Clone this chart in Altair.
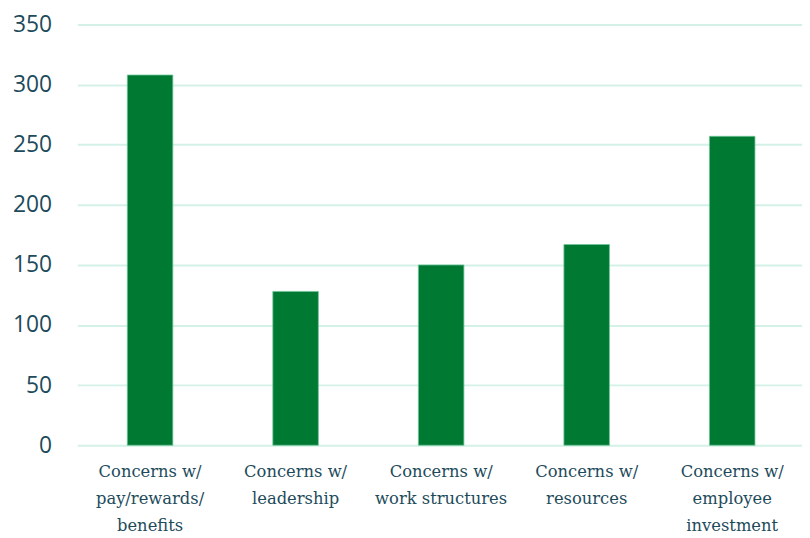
import altair as alt
import pandas as pd

categories = [
    "Concerns w/|pay/rewards/|benefits",
    "Concerns w/|leadership",
    "Concerns w/|work structures",
    "Concerns w/|resources",
    "Concerns w/|employee|investment",
]
values = [308, 128, 150, 167, 257]
y_ticks = [0, 50, 100, 150, 200, 250, 300, 350]

df = pd.DataFrame({"category": categories, "value": values})

label_color = "#1d4b5b"
grid_color = "#d3f1e6"

chart = (
    alt.Chart(df)
    .mark_bar(size=46, color="#007a33", stroke="#6fc59a", strokeWidth=0.8)
    .encode(
        x=alt.X(
            "category:N",
            sort=categories,
            scale=alt.Scale(paddingInner=0, paddingOuter=0, range=[0, 735]),
            axis=alt.Axis(
                title=None,
                labelAngle=0,
                labelExpr="split(datum.label, '|')",
                labelFont="DejaVu Serif",
                labelFontSize=16.5,
                labelColor=label_color,
                labelLineHeight=27,
                labelPadding=19,
                ticks=False,
                domain=False,
                grid=False,
                labelBaseline="top",
            ),
        ),
        y=alt.Y(
            "value:Q",
            scale=alt.Scale(domain=[0, 350], nice=False),
            axis=alt.Axis(
                title=None,
                values=y_ticks,
                labelFont="Open Sans",
                labelFontSize=23,
                labelColor=label_color,
                labelPadding=26,
                ticks=False,
                domain=False,
                gridColor=grid_color,
                gridWidth=2,
            ),
        ),
    )
    .properties(
        width=732,
        height=425,
        padding={"left": 70, "top": 14, "right": 0, "bottom": 92},
        autosize=alt.AutoSizeParams(type="none"),
    )
    .configure_view(stroke=None)
)

chart.save("out.html", embed_options={"renderer": "svg", "actions": False})
